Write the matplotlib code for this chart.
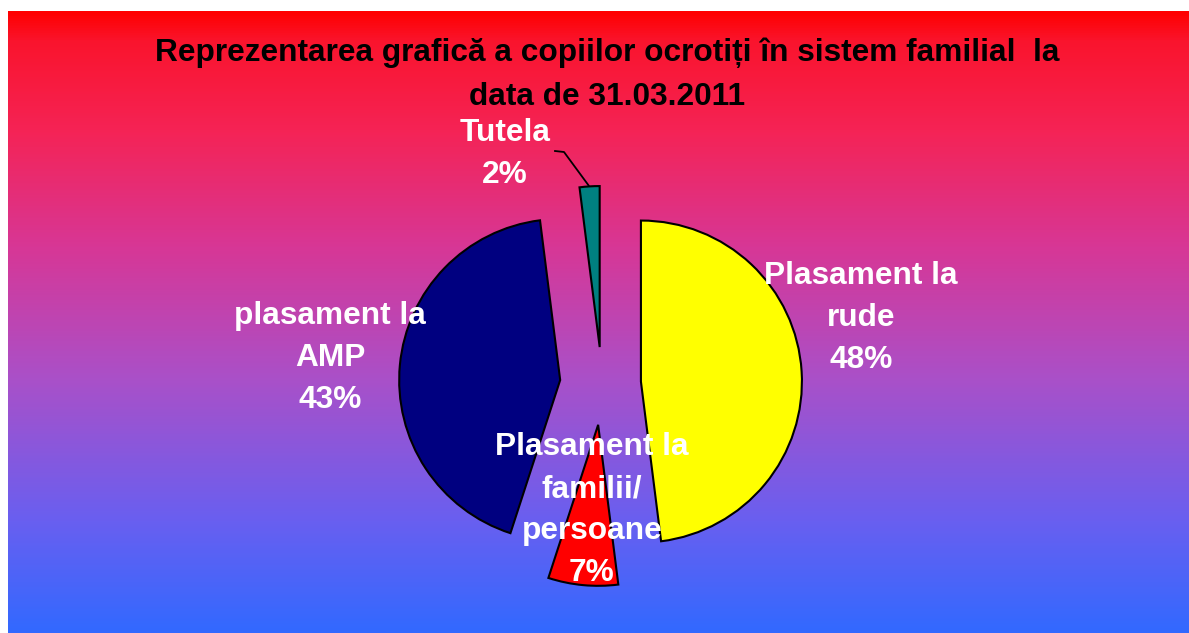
import numpy as np
import matplotlib
matplotlib.use("Agg")
import matplotlib.pyplot as plt
from matplotlib.colors import LinearSegmentedColormap

# ---- data ----
categories = ["Plasament la\nrude", "Plasament la\nfamilii/\npersoane", "plasament la\nAMP", "Tutela"]
values = [48, 7, 43, 2]
colors = ["#FFFF00", "#FF0000", "#000080", "#008080"]
title = "Reprezentarea grafică a copiilor ocrotiți în sistem familial  la\ndata de 31.03.2011"

W, H = 1189, 633
fig = plt.figure(figsize=(W / 100, H / 100), dpi=100, facecolor="white")
plt.rcParams['font.family'] = ['Liberation Sans', 'DejaVu Sans']

# gradient background
bg = fig.add_axes([8 / W, 0, 1 - 8 / W, (H - 11) / H])
stops = [(0.0, (255, 0, 0)), (0.047, (250, 20, 45)), (0.19, (245, 35, 85)),
         (0.38, (215, 55, 150)), (0.59, (170, 80, 200)), (0.82, (105, 95, 240)),
         (1.0, (50, 105, 255))]
cmap = LinearSegmentedColormap.from_list("bg", [(f, tuple(c / 255 for c in col)) for f, col in stops])
grad = np.linspace(0, 1, 512).reshape(-1, 1)
bg.imshow(grad, aspect="auto", cmap=cmap, extent=[0, 1, 0, 1], origin="upper")
bg.set_axis_off()

# pie axes in pixel coordinates (y up)
ax = fig.add_axes([0, 0, 1, 1])
ax.patch.set_alpha(0)
cx, cy = 602, H - 384
R = 161
explode = [39, 41, 42, 37]
wedges, _ = ax.pie(values, colors=colors, startangle=90, counterclock=False,
                   center=(cx, cy), radius=R, explode=explode,
                   wedgeprops=dict(edgecolor="black", linewidth=1.5))
ax.set_xlim(0, W)
ax.set_ylim(0, H)
ax.set_aspect("auto")
ax.set_axis_off()

lab_font = dict(color="white", fontsize=22.8, fontweight="bold", ha="center", va="center",
                linespacing=1.52)
pct = [f"{v}%" for v in values]
label_pos = [(861, H - 318), (592, H - 510), (330, H - 358), (505, H - 154)]
for cat, p, (lx, ly) in zip(categories, pct, label_pos):
    txt = cat + "\n" + p
    ax.text(lx, ly, txt, **lab_font)

# leader line for Tutela
tw = wedges[3]
tm = np.deg2rad((tw.theta1 + tw.theta2) / 2)
ex = tw.center[0] + R * np.cos(tm)
ey = tw.center[1] + R * np.sin(tm)
ax.plot([555, 564, ex - 1], [H - 151, H - 152, ey + 1], color="black", lw=1.3)

fig.text(607 / W, 1 - 75 / H, title, ha="center", va="center", fontsize=22.8,
         fontweight="bold", color="black", linespacing=1.6)

fig.savefig("out.png", dpi=100, facecolor="white")
